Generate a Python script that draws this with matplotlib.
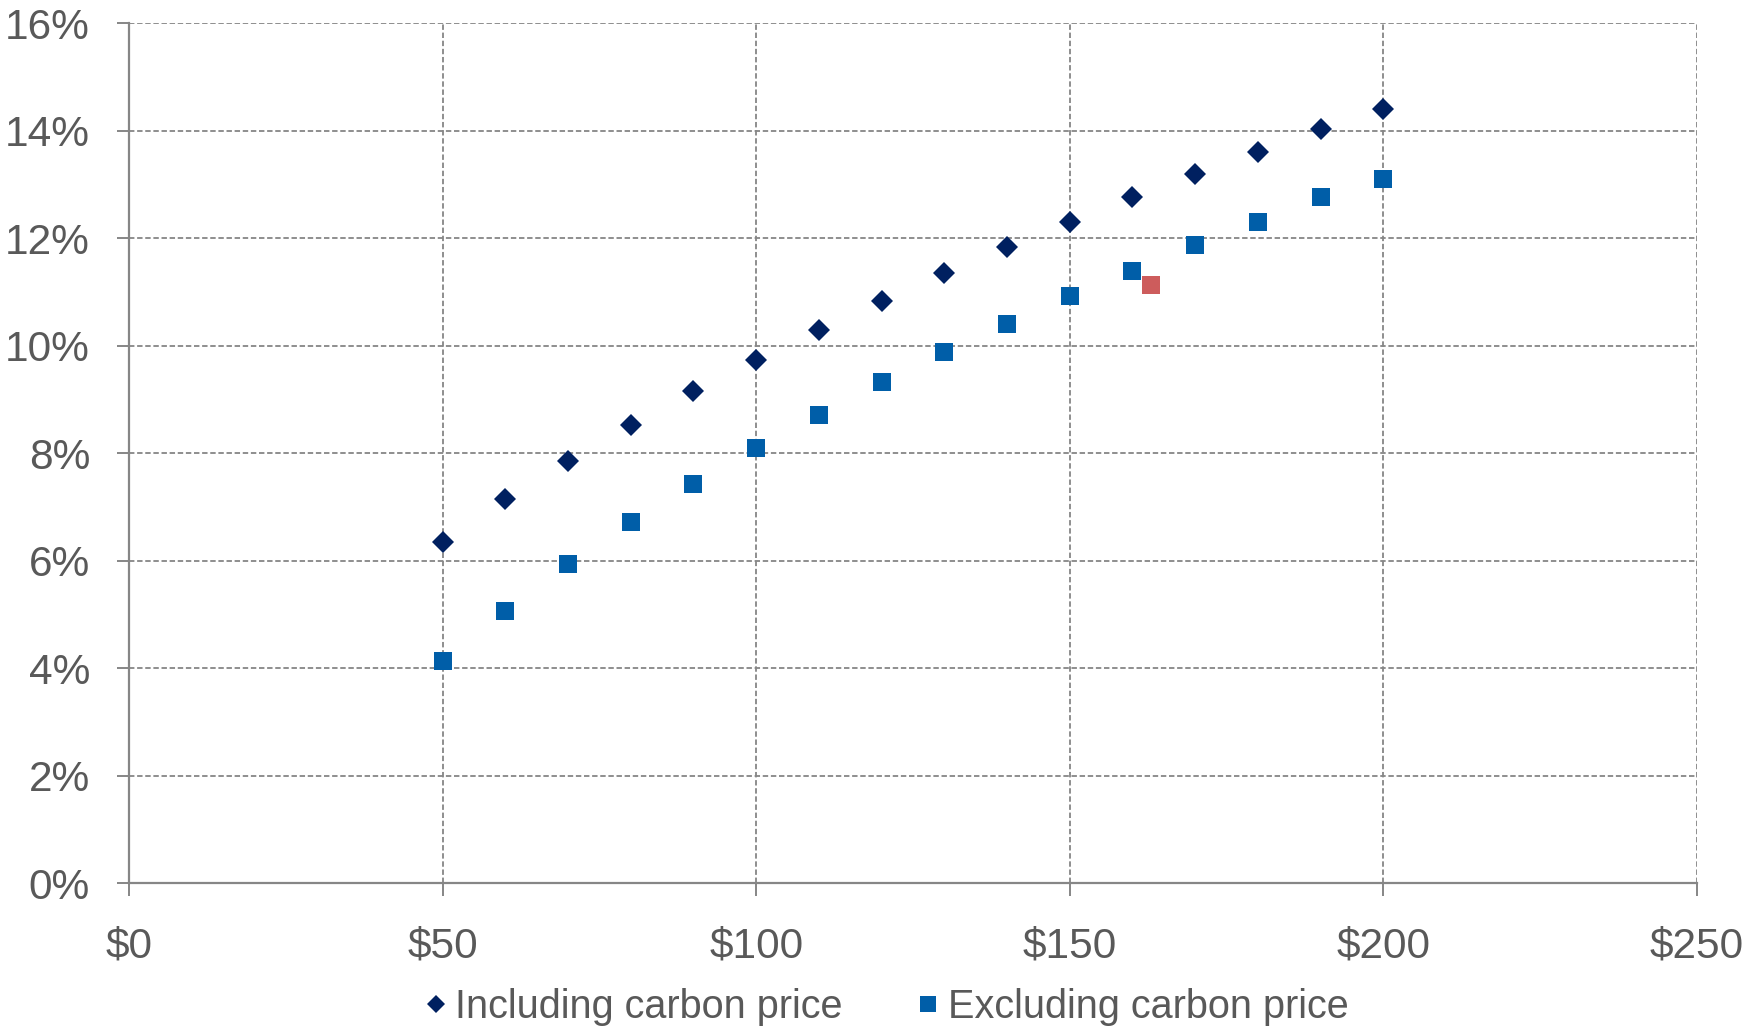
import matplotlib
matplotlib.use("Agg")
import matplotlib.pyplot as plt
from matplotlib.lines import Line2D
from matplotlib.ticker import FuncFormatter, MultipleLocator

# Carbon price ($/t) and resulting share (%)
carbon_price = [50, 60, 70, 80, 90, 100, 110, 120, 130, 140, 150, 160, 170, 180, 190, 200]
including_carbon = [6.35, 7.14, 7.86, 8.53, 9.15, 9.73, 10.29, 10.83, 11.35, 11.83,
                    12.31, 12.76, 13.20, 13.61, 14.03, 14.40]
excluding_carbon = [4.13, 5.06, 5.93, 6.72, 7.43, 8.09, 8.72, 9.32, 9.88, 10.40,
                    10.92, 11.39, 11.87, 12.31, 12.76, 13.11]
highlight_price = [163]
highlight_value = [11.14]

series_labels = ["Including carbon price", "Excluding carbon price"]

plt.rcParams["font.family"] = ["Liberation Sans", "DejaVu Sans"]

text_color = "#595959"
axis_color = "#868686"
navy = "#002060"
blue = "#005EA8"
red = "#CD5C5C"

fig = plt.figure(figsize=(17.48, 10.31), dpi=100)
ax = fig.add_axes([0.0738, 0.1435, 0.897, 0.8338])

ax.plot(carbon_price, including_carbon, linestyle="none", marker="D",
        markersize=10.8, color=navy, markeredgewidth=0, zorder=3, clip_on=False)
ax.plot(carbon_price, excluding_carbon, linestyle="none", marker="s",
        markersize=13, color=blue, markeredgewidth=0, zorder=3, clip_on=False)
ax.plot(highlight_price, highlight_value, linestyle="none", marker="s",
        markersize=12.5, color=red, markeredgewidth=0, zorder=4, clip_on=False)

ax.set_xlim(0, 250)
ax.set_ylim(0, 16)
ax.xaxis.set_major_locator(MultipleLocator(50))
ax.yaxis.set_major_locator(MultipleLocator(2))
ax.xaxis.set_major_formatter(FuncFormatter(lambda v, p: f"${v:.0f}"))
ax.yaxis.set_major_formatter(FuncFormatter(lambda v, p: f"{v:.0f}%"))

ax.grid(True, color=axis_color, linestyle=(0, (3, 1.5)), linewidth=1.3, zorder=0)
ax.set_axisbelow(True)

for side in ("top", "right"):
    ax.spines[side].set_visible(False)
for side in ("left", "bottom"):
    ax.spines[side].set_color(axis_color)
    ax.spines[side].set_linewidth(1.6)

ax.tick_params(axis="both", colors=axis_color, length=9, width=1.4,
               labelcolor=text_color, labelsize=30.5)
ax.tick_params(axis="x", pad=22)
ax.tick_params(axis="y", pad=19)

handles = [
    Line2D([], [], linestyle="none", marker="D", markersize=9, color=navy,
           markeredgewidth=0),
    Line2D([], [], linestyle="none", marker="s", markersize=11, color=blue,
           markeredgewidth=0),
]
fig.legend(handles, series_labels, loc="center", bbox_to_anchor=(0.507, 0.023),
           ncol=2, frameon=False, fontsize=28.5, labelcolor=text_color,
           handlelength=0.6, handletextpad=0.2, columnspacing=1.85,
           borderpad=0, borderaxespad=0)

fig.savefig("out.png", dpi=100, facecolor="white")
